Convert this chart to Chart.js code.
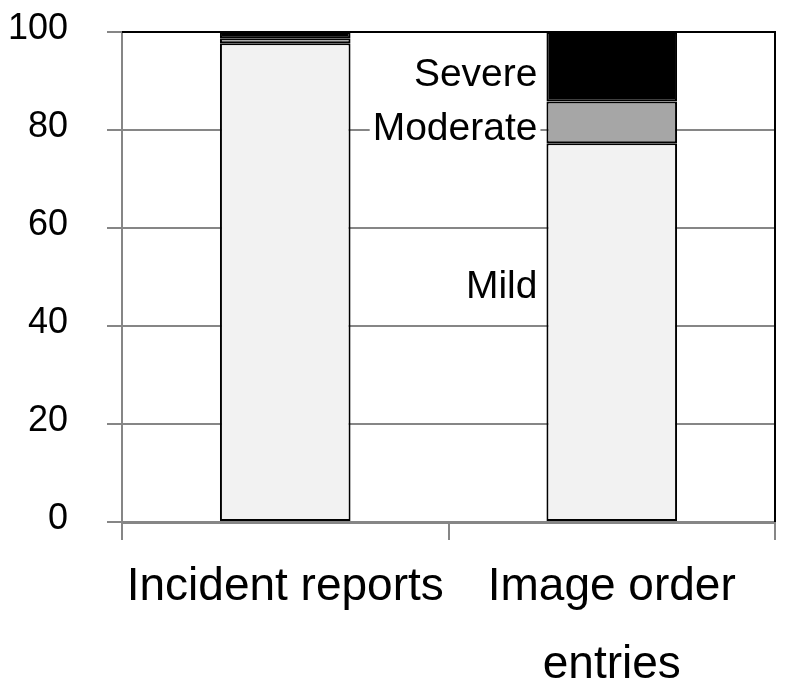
<!DOCTYPE html>
<html>
<head>
<meta charset="utf-8">
<script src="https://cdn.jsdelivr.net/npm/chart.js@4/dist/chart.umd.min.js"></script>
<style>
html,body{margin:0;padding:0;background:#fff;}
#wrap{width:785px;height:693px;position:relative;}
</style>
</head>
<body>
<div id="wrap"><canvas id="c"></canvas></div>
<script>
const categories = ['Incident reports', ['Image order', 'entries']];
const mildValues = [97.7, 77.3];
const moderateValues = [1.0, 8.5];
const severeValues = [1.3, 14.2];
const yTicks = [0, 20, 40, 60, 80, 100];
const seriesNames = ['Mild', 'Moderate', 'Severe'];
// value at which each series label is centred (drawn beside the second bar)
const labelAnchors = [48, 80.2, 91.2];

const FONT = '"Liberation Sans", Arial, sans-serif';
const GRID = '#868686';

const segLabels = {
  id: 'segLabels',
  afterDatasetsDraw(chart) {
    const ctx = chart.ctx;
    const ys = chart.scales.y;
    const bar = chart.getDatasetMeta(0).data[1];
    const xr = bar.x - bar.width / 2 - 9;
    ctx.save();
    ctx.font = '39px ' + FONT;
    ctx.textAlign = 'right';
    ctx.textBaseline = 'middle';
    seriesNames.forEach((name, i) => {
      const y = ys.getPixelForValue(labelAnchors[i]);
      const w = ctx.measureText(name).width;
      ctx.fillStyle = '#fff';
      ctx.fillRect(xr - w - 3, y - 14, w + 6, 28);
      ctx.fillStyle = '#000';
      ctx.fillText(name, xr, y);
    });
    ctx.restore();
  }
};

const frame = {
  id: 'frame',
  afterDraw(chart) {
    const {ctx, chartArea: a} = chart;
    ctx.save();
    ctx.strokeStyle = '#000';
    ctx.lineWidth = 2;
    ctx.beginPath();
    ctx.moveTo(a.left, a.top);
    ctx.lineTo(a.right, a.top);
    ctx.lineTo(a.right, a.bottom);
    ctx.stroke();
    ctx.restore();
  }
};

const common = {borderColor: '#000', borderWidth: 2, barPercentage: 0.4, categoryPercentage: 1.0, borderSkipped: false};

new Chart(document.getElementById('c'), {
  type: 'bar',
  data: {
    labels: categories,
    datasets: [
      Object.assign({label: seriesNames[0], data: mildValues, backgroundColor: '#f2f2f2'}, common),
      Object.assign({label: seriesNames[1], data: moderateValues, backgroundColor: '#a6a6a6'}, common),
      Object.assign({label: seriesNames[2], data: severeValues, backgroundColor: '#000000'}, common)
    ]
  },
  options: {
    responsive: true,
    maintainAspectRatio: false,
    animation: false,
    layout: {padding: {left: 0, top: 32, right: 10, bottom: 0}},
    plugins: {legend: {display: false}, tooltip: {enabled: false}},
    scales: {
      x: {
        stacked: true,
        grid: {offset: true, drawOnChartArea: false, drawTicks: true, tickLength: 18, color: GRID, lineWidth: 2},
        border: {display: true, color: GRID, width: 3},
        ticks: {color: '#000', font: {family: FONT, size: 46, lineHeight: 1.7}, padding: 8, maxRotation: 0, autoSkip: false},
        afterFit(s) { s.height = 171; }
      },
      y: {
        stacked: true,
        min: 0, max: 100,
        afterBuildTicks(s) { s.ticks = yTicks.map(v => ({value: v})); },
        grid: {color: GRID, lineWidth: 2, tickLength: 15, drawTicks: true},
        border: {display: true, color: GRID, width: 2},
        ticks: {color: '#000', font: {family: FONT, size: 36}, padding: 39, labelOffset: -3},
        afterFit(s) { s.width = 122; s.paddingTop = 0; s.paddingBottom = 0; }
      }
    }
  },
  plugins: [segLabels, frame]
});
</script>
</body>
</html>
